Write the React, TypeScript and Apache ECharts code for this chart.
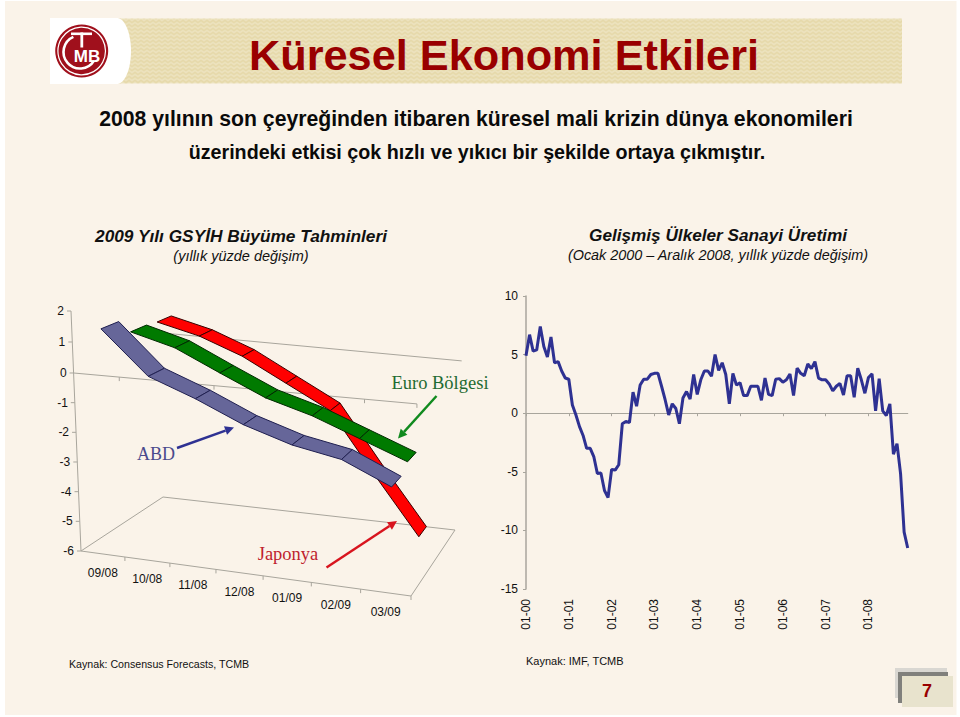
import React, { useEffect, useRef } from "react";
import * as echarts from "echarts";

const forecastMonths = ["09/08", "10/08", "11/08", "12/08", "01/09", "02/09", "03/09"];
const forecastTicks = [2, 1, 0, -1, -2, -3, -4, -5, -6];
const usGrowth = [1.4, 0, -0.6, -1.3, -1.8, -2.1, -2.8];
const euroGrowth = [0.9, 0.5, -0.2, -0.9, -1.35, -1.95, -2.55];
const japanGrowth = [0.85, 0.5, -0.05, -0.85, -1.65, -3.7, -5.65];

const productionYears = ["00", "01", "02", "03", "04", "05", "06", "07", "08"];
const productionChange = [
  4.9, 6.7, 5.3, 5.4, 7.4, 5.7, 4.8, 6.5, 4.3, 4.4, 3.6, 3.0,
  2.9, 0.7, -0.15, -1.15, -1.9, -3.0, -3.0, -3.7, -5.15, -5.1, -6.6, -7.2,
  -4.8, -4.85, -4.4, -0.9, -0.7, -0.8, 1.8, 0.6, 2.4, 2.9, 2.9, 3.3,
  3.4, 3.4, 2.3, 1.15, -0.15, 0.8, 0.4, -0.9, 1.3, 1.85, 1.2, 3.3,
  1.6, 2.85, 3.6, 3.6, 3.15, 5.0, 3.65, 4.3, 3.3, 0.8, 3.4, 2.4,
  2.6, 1.5, 1.5, 2.3, 2.3, 2.3, 1.1, 3.0, 1.6, 1.5, 2.9, 2.95,
  2.65, 2.85, 3.35, 1.5, 3.85, 3.4, 3.2, 4.2, 3.8, 4.4, 3.0, 2.85,
  2.85, 2.5, 1.9, 2.3, 2.55, 1.55, 3.2, 3.2, 1.35, 3.85, 2.85, 1.7,
  3.05, 3.35, 0.2, 2.95, 0.2, -0.2, 0.8, -3.5, -2.6, -5.15, -10.15, -11.5,
];
const productionMonths: string[] = [];
productionYears.forEach((y) => {
  ["01", "02", "03", "04", "05", "06", "07", "08", "09", "10", "11", "12"].forEach((m) =>
    productionMonths.push(`${m}-${y}`)
  );
});

const SANS = "'Liberation Sans', Arial, sans-serif";
const SERIF = "'Liberation Serif', 'Times New Roman', serif";
const FRAME = "#a8a59c";

// oblique box of the 3D chart: maps the plain scale fractions onto the drawn box
function warp(px: number, py: number, d: number, cs: any): [number, number] {
  const u0 = (px - cs.x) / cs.width;
  const t0 = (cs.y + cs.height - py) / cs.height;
  const u = u0 - 0.08 * u0 * (1 - u0);
  const t = t0 >= 0.75 ? 0.7417 + ((t0 - 0.75) / 0.25) * 0.2583 : (t0 / 0.75) * 0.7417;
  const lerp = (a: number, b: number, f: number) => a + (b - a) * f;
  const lx = lerp(81, 71, t) + d * lerp(82, 93, t);
  const ly = lerp(551, 311, t) + d * lerp(-54, -35, t);
  const rx = lerp(411, 419, t) + d * lerp(44, 45, t);
  const ry = lerp(596, 337, t) + d * lerp(-66, -35, t);
  return [lerp(lx, rx, u), lerp(ly, ry, u)];
}

function ribbon(name: string, data: number[], fill: string, stroke: string, d0: number, d1: number, z: number) {
  return {
    type: "custom",
    name,
    xAxisIndex: 0,
    yAxisIndex: 0,
    z,
    silent: true,
    clip: false,
    data: data.map((v, i) => [i + 0.5, v]),
    encode: { x: 0, y: 1 },
    renderItem: (params: any, api: any) => {
      const i = params.dataIndex;
      if (i >= data.length - 1) return null;
      const a = api.coord([i + 0.5, data[i]]);
      const b = api.coord([i + 1.5, data[i + 1]]);
      const cs = params.coordSys;
      return {
        type: "polygon",
        shape: { points: [warp(a[0], a[1], d0, cs), warp(b[0], b[1], d0, cs), warp(b[0], b[1], d1, cs), warp(a[0], a[1], d1, cs)] },
        style: { fill, stroke, lineWidth: 1, lineJoin: "round" },
      };
    },
  };
}

function arrow(x0: number, y0: number, x1: number, y1: number, color: string) {
  const a = Math.atan2(y1 - y0, x1 - x0);
  const len = 9;
  const w = 4.5;
  const bx = x1 - len * Math.cos(a);
  const by = y1 - len * Math.sin(a);
  return [
    { type: "line", shape: { x1: x0, y1: y0, x2: bx, y2: by }, style: { stroke: color, lineWidth: 2.4 }, z: 30 },
    {
      type: "polygon",
      shape: { points: [[x1, y1], [bx - w * Math.sin(a), by + w * Math.cos(a)], [bx + w * Math.sin(a), by - w * Math.cos(a)]] },
      style: { fill: color },
      z: 30,
    },
  ];
}

function chevronCanvas(w: number, h: number) {
  const c = document.createElement("canvas");
  c.width = w;
  c.height = h;
  const g = c.getContext("2d") as CanvasRenderingContext2D;
  g.fillStyle = "#e6d9aa";
  g.fillRect(0, 0, w, h);
  g.strokeStyle = "#efe6c6";
  g.lineWidth = 1.3;
  for (let y = 0; y < h + 4; y += 4) {
    g.beginPath();
    for (let x = 0; x <= w + 6; x += 3) {
      const yy = y + (Math.round(x / 3) % 2 === 0 ? 0 : 2);
      if (x === 0) g.moveTo(x, yy);
      else g.lineTo(x, yy);
    }
    g.stroke();
  }
  return c;
}

function txt(text: string, x: number, y: number, font: string, fill: string, textAlign = "center") {
  return { type: "text", z: 40, style: { text, x, y, font, fill, textAlign, textVerticalAlign: "middle" } };
}

export default function App() {
  const ref = useRef<HTMLDivElement>(null);
  useEffect(() => {
    const chart = echarts.init(ref.current as HTMLDivElement, undefined, { renderer: "svg" });
    const option: any = {
      animation: false,
      backgroundColor: "#ffffff",
      grid: [
        { left: 71, top: 311, width: 340, height: 240, outerBoundsMode: "none" },
        { left: 526, top: 296, width: 381.7, height: 293, outerBoundsMode: "none" },
      ],
      xAxis: [
        { type: "value", gridIndex: 0, min: 0, max: 7, show: false },
        {
          type: "category",
          gridIndex: 1,
          boundaryGap: false,
          data: productionMonths,
          axisLine: { onZero: true, lineStyle: { color: FRAME, width: 1.2 } },
          axisTick: { interval: 11, length: 3, lineStyle: { color: FRAME } },
          axisLabel: {
            interval: 11,
            rotate: 90,
            margin: 10,
            color: "#111",
            fontSize: 12,
            fontFamily: "Liberation Sans",
          },
          splitLine: { show: false },
        },
      ],
      yAxis: [
        { type: "value", gridIndex: 0, min: -6, max: 2, show: false },
        {
          type: "value",
          gridIndex: 1,
          min: -15,
          max: 10,
          interval: 5,
          axisLine: { show: true, lineStyle: { color: FRAME, width: 1.5 } },
          axisTick: { show: true, length: 3, lineStyle: { color: FRAME } },
          axisLabel: { margin: 8, color: "#111", fontSize: 12, fontFamily: "Liberation Sans" },
          splitLine: { show: false },
        },
      ],
      series: [
        {
          type: "custom",
          name: "frame",
          xAxisIndex: 0,
          yAxisIndex: 0,
          z: 3,
          silent: true,
          clip: false,
          data: [[0, 0]],
          encode: { x: 0, y: 1 },
          renderItem: (params: any, api: any) => {
            const cs = params.coordSys;
            const P = (x: number, v: number, d = 0) => {
              const c = api.coord([x, v]);
              return warp(c[0], c[1], d, cs);
            };
            const seg = (a: number[], b: number[]) => ({
              type: "line",
              shape: { x1: a[0], y1: a[1], x2: b[0], y2: b[1] },
              style: { stroke: FRAME, lineWidth: 1 },
            });
            const children: any[] = [
              seg(P(0, 2), P(0, -6)),
              seg(P(0, -6), P(7, -6)),
              seg(P(0, -6), P(0, -6, 1)),
              seg(P(7, -6), P(7, -6, 1)),
              seg(P(0, -6, 1), P(7, -6, 1)),
              seg(P(0, 0), P(7, 0)),
              seg(P(0, 0, 1), P(7, 0, 1)),
            ];
            forecastTicks.forEach((v) => {
              const p = P(0, v);
              children.push(seg(p, [p[0] - 4, p[1]]));
            });
            forecastMonths.forEach((_, i) => {
              [-6, 0].forEach((v) => {
                const p = P(i + 1, v);
                children.push(seg(p, [p[0], p[1] + 4]));
              });
            });
            return { type: "group", children };
          },
        },
        ribbon("Japonya", japanGrowth, "#ff0000", "#3a0000", 0.7, 0.86, 5),
        ribbon("Euro Bölgesi", euroGrowth, "#007a00", "#002a00", 0.4, 0.58, 6),
        ribbon("ABD", usGrowth, "#666699", "#1f1f50", 0.07, 0.27, 7),
        {
          type: "custom",
          name: "months",
          xAxisIndex: 0,
          yAxisIndex: 0,
          z: 8,
          silent: true,
          clip: false,
          data: forecastMonths.map((_, i) => [i + 0.5, -6]),
          encode: { x: 0, y: 1 },
          renderItem: (params: any, api: any) => {
            const c = api.coord([api.value(0), api.value(1)]);
            const p = warp(c[0], c[1], 0, params.coordSys);
            return {
              type: "text",
              style: {
                text: forecastMonths[params.dataIndex],
                x: p[0],
                y: p[1] + 19,
                font: `12px ${SANS}`,
                fill: "#111",
                textAlign: "center",
                textVerticalAlign: "middle",
              },
            };
          },
        },
        {
          type: "custom",
          name: "ticks",
          xAxisIndex: 0,
          yAxisIndex: 0,
          z: 8,
          silent: true,
          clip: false,
          data: forecastTicks.map((v) => [0, v]),
          encode: { x: 0, y: 1 },
          renderItem: (params: any, api: any) => {
            const c = api.coord([0, api.value(1)]);
            const p = warp(c[0], c[1], 0, params.coordSys);
            return {
              type: "text",
              style: {
                text: String(forecastTicks[params.dataIndex]),
                x: p[0] - 7,
                y: p[1],
                font: `12px ${SANS}`,
                fill: "#111",
                textAlign: "right",
                textVerticalAlign: "middle",
              },
            };
          },
        },
        {
          type: "line",
          name: "Sanayi Üretimi",
          xAxisIndex: 1,
          yAxisIndex: 1,
          data: productionChange,
          symbol: "none",
          z: 5,
          lineStyle: { color: "#2e3192", width: 3 },
        },
      ],
      graphic: [
        { type: "rect", silent: true, z: -10, shape: { x: 5, y: 1, width: 951.5, height: 714 }, style: { fill: "#faf3e9" } },
        { type: "image", silent: true, z: -9, style: { image: chevronCanvas(785, 65), x: 117, y: 18.5, width: 785, height: 65 } },
        { type: "rect", silent: true, z: -8, shape: { x: 50, y: 18, width: 68, height: 66 }, style: { fill: "#ffffff" } },
        { type: "ellipse", silent: true, z: -8, shape: { cx: 117, cy: 51, rx: 14, ry: 33 }, style: { fill: "#ffffff" } },
        { type: "circle", silent: true, z: 20, shape: { cx: 81.7, cy: 51, r: 26.5 }, style: { fill: "#a0101c" } },
        { type: "circle", silent: true, z: 21, shape: { cx: 81.7, cy: 51, r: 23.8 }, style: { fill: "#a0101c", stroke: "#ffffff", lineWidth: 1.2 } },
        { type: "arc", silent: true, z: 22, shape: { cx: 80, cy: 52, r: 16.5, startAngle: 0.55, endAngle: 4.3, clockwise: true }, style: { stroke: "#ffffff", lineWidth: 2.6, fill: "none" } },
        { type: "rect", silent: true, z: 23, shape: { x: 71, y: 32.5, width: 21, height: 2.6 }, style: { fill: "#ffffff" } },
        { type: "rect", silent: true, z: 23, shape: { x: 80.4, y: 32.5, width: 2.8, height: 15 }, style: { fill: "#ffffff" } },
        txt("MB", 87, 56.5, `bold 17px ${SANS}`, "#ffffff"),
        txt("Küresel Ekonomi Etkileri", 504, 55, `bold 43.3px ${SANS}`, "#990000"),
        txt("2008 yılının son çeyreğinden itibaren küresel mali krizin dünya ekonomileri", 476, 118, `bold 21.2px ${SANS}`, "#0a0a0a"),
        txt("üzerindeki etkisi çok hızlı ve yıkıcı bir şekilde ortaya çıkmıştır.", 477, 152, `bold 19.7px ${SANS}`, "#0a0a0a"),
        txt("2009 Yılı GSYİH Büyüme Tahminleri", 241, 236, `italic bold 17.3px ${SANS}`, "#111"),
        txt("(yıllık yüzde değişim)", 241, 256, `italic 14.5px ${SANS}`, "#111"),
        txt("Gelişmiş Ülkeler Sanayi Üretimi", 718, 235, `italic bold 17.2px ${SANS}`, "#111"),
        txt("(Ocak 2000 – Aralık 2008, yıllık yüzde değişim)", 718, 255, `italic 14.4px ${SANS}`, "#111"),
        txt("ABD", 156, 453.5, `18px ${SERIF}`, "#4a4a8c"),
        txt("Euro Bölgesi", 440, 383, `18.5px ${SERIF}`, "#1f6b32"),
        txt("Japonya", 288, 554, `18.5px ${SERIF}`, "#bf1e2e"),
        ...arrow(177, 448, 234, 427.5, "#2e3192"),
        ...arrow(436.5, 396, 398, 438.5, "#108a1e"),
        ...arrow(326.5, 567.5, 397, 521, "#d8141e"),
        txt("Kaynak: Consensus Forecasts, TCMB", 69, 664, `10.65px ${SANS}`, "#111", "left"),
        txt("Kaynak: IMF, TCMB", 526, 661, `11px ${SANS}`, "#111", "left"),
        { type: "rect", silent: true, z: 30, shape: { x: 895, y: 668, width: 52, height: 30 }, style: { fill: "#d9d7d2" } },
        { type: "rect", silent: true, z: 31, shape: { x: 898, y: 672, width: 50, height: 31 }, style: { fill: "#80807c" } },
        { type: "rect", silent: true, z: 32, shape: { x: 902, y: 676, width: 51, height: 31 }, style: { fill: "#e8e3cd" } },
        txt("7", 927, 691, `bold 18px ${SANS}`, "#990000"),
      ],
    };
    chart.setOption(option);
    return () => chart.dispose();
  }, []);
  return <div ref={ref} style={{ position: "fixed", left: 0, top: 0, width: 960, height: 717 }} />;
}
